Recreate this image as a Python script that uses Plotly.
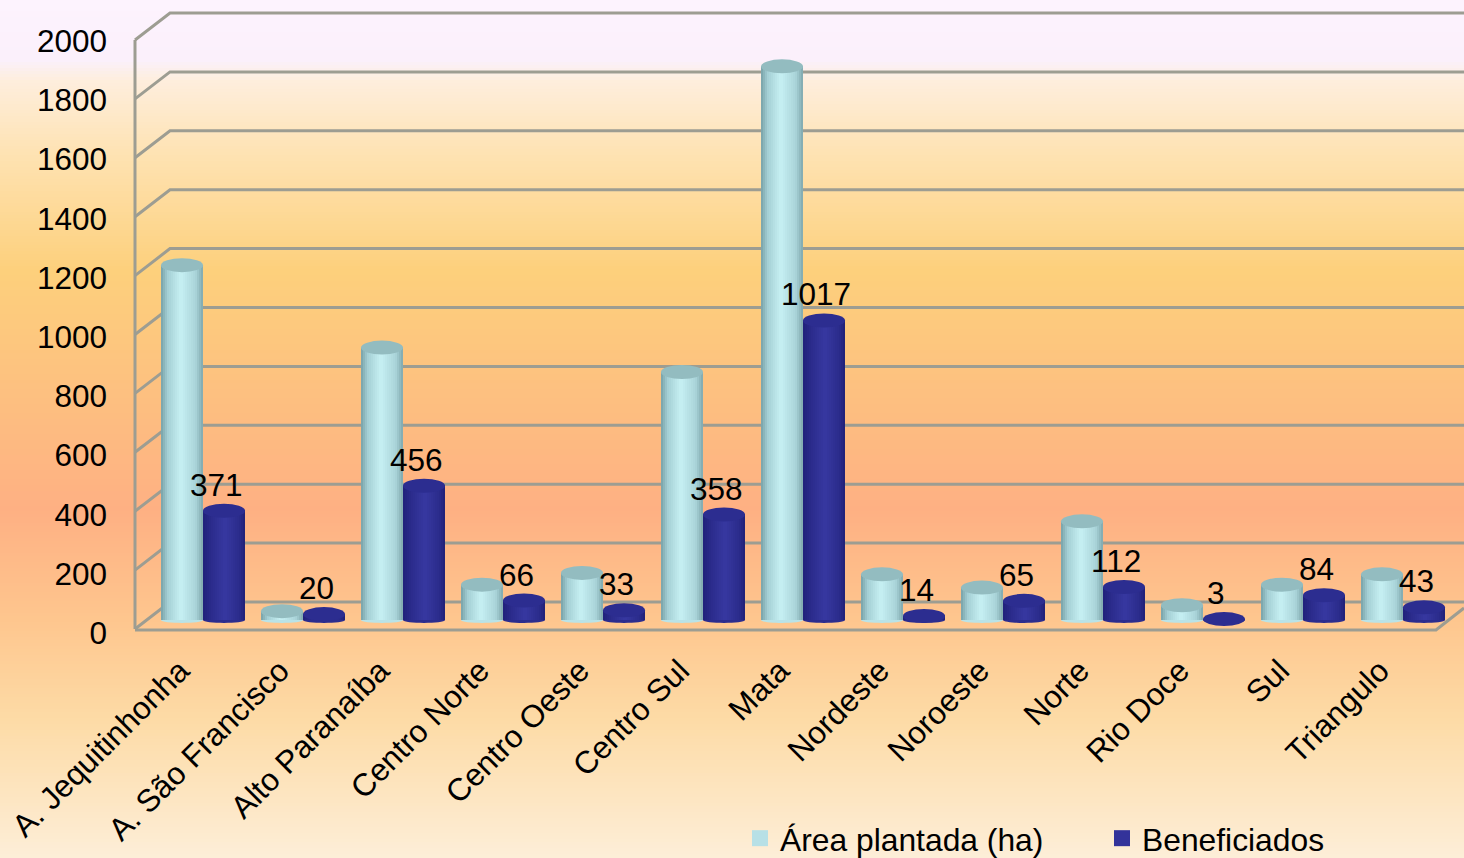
import plotly.graph_objects as go

categories = ["A. Jequitinhonha", "A. São Francisco", "Alto Paranaíba", "Centro Norte", "Centro Oeste",
              "Centro Sul", "Mata", "Nordeste", "Noroeste", "Norte", "Rio Doce", "Sul", "Triangulo"]
area_plantada = [1205, 30, 925, 120, 160, 842, 1880, 155, 110, 335, 50, 120, 155]
beneficiados = [371, 20, 456, 66, 33, 358, 1017, 14, 65, 112, 3, 84, 43]
y_ticks = [0, 200, 400, 600, 800, 1000, 1200, 1400, 1600, 1800, 2000]

W, H = 1464, 858
PX_PER_UNIT = 0.2945
BAR_ZERO = 620      # bars stand on the floor, behind the front edge
FRONT_ZERO = 629
BACK_ZERO = 602
FRONT_X, BACK_X = 135, 170
FONT = "Liberation Sans, Arial, sans-serif"
FS = 31.5
GRID = "#9d9d92"

xpos = list(range(len(categories)))
BW = 0.42
CAP = 7 / PX_PER_UNIT


def yrange(zero, scale=PX_PER_UNIT):
    return [(zero - H) / scale, zero / scale]


fig = go.Figure()

# background gradient
stops_px = [0, 60, 72, 80, 150, 270, 400, 510, 620, 720, 858]
stops_col = ["#fdf3fe", "#fbf0fb", "#fcefe8", "#feeedd", "#fee3b4", "#fdd07c", "#fdbf80", "#feb083", "#fec68e", "#fddba6", "#fdeed8"]
fig.add_trace(go.Heatmap(
    x=[0, W], y=list(range(0, H + 1, 3)),
    z=[[v, v] for v in range(0, H + 1, 3)],
    zmin=0, zmax=H,
    colorscale=[[p / H, c] for p, c in zip(stops_px, stops_col)],
    showscale=False, hoverinfo="skip", xaxis="x", yaxis="y"))


def line(xs, ys):
    fig.add_trace(go.Scatter(x=xs, y=ys, mode="lines", line=dict(color=GRID, width=3),
                             showlegend=False, hoverinfo="skip", xaxis="x", yaxis="y"))


# walls and floor
for t in y_ticks:
    d = t * PX_PER_UNIT
    line([FRONT_X, BACK_X, W], [FRONT_ZERO - d, BACK_ZERO - d, BACK_ZERO - d])
line([FRONT_X, FRONT_X], [FRONT_ZERO, FRONT_ZERO - 2000 * PX_PER_UNIT])
line([FRONT_X, 1436, W], [FRONT_ZERO + 1, FRONT_ZERO + 1, 608])


def cylinder(values, x_shift, stops):
    n = 21
    for k in range(n):
        f = k / n
        # pick shaded colour across the cylinder width
        for (a, ca), (b, cb) in zip(stops, stops[1:]):
            if a <= f <= b:
                t = (f - a) / (b - a)
                rgb = [round(ca[j] + (cb[j] - ca[j]) * t) for j in range(3)]
                break
        left = x_shift - BW / 2 + f * BW
        right = x_shift + BW / 2
        fig.add_trace(go.Bar(x=xpos, y=values, width=right - left, offset=left,
                             marker=dict(color=f"rgb({rgb[0]},{rgb[1]},{rgb[2]})", line=dict(width=0)),
                             showlegend=False, hoverinfo="skip", xaxis="x2", yaxis="y2"))


light = [(0, (126, 168, 174)), (0.14, (165, 208, 213)), (0.45, (198, 240, 243)), (0.8, (170, 212, 217)), (1.0, (122, 162, 168))]
dark = [(0, (34, 34, 125)), (0.2, (44, 45, 142)), (0.5, (55, 56, 160)), (0.85, (42, 43, 138)), (1.0, (30, 30, 115))]
cylinder(area_plantada, -BW / 2, light)
cylinder(beneficiados, BW / 2, dark)

shapes = []
for i in xpos:
    for val, sh, top, bottom in ((area_plantada[i], -BW / 2, "#93bcc0", "#b9e3e7"),
                                 (beneficiados[i], BW / 2, "#2c2d90", "#2b2c8e")):
        cx = i + sh
        xl, xr = cx - BW / 2, cx + BW / 2
        # rounded foot of the cylinder
        shapes.append(dict(type="path", xref="x2", yref="y2", layer="above", line_width=0, fillcolor=bottom,
                           path=f"M {xl},0 C {xl},{-0.55 * CAP} {xr},{-0.55 * CAP} {xr},0 Z"))
        shapes.append(dict(type="circle", xref="x2", yref="y2", layer="above", line_width=0, fillcolor=top,
                           x0=xl, x1=xr, y0=val - CAP, y1=val + CAP))

annotations = [dict(x=i + 0.13, y=v, xref="x2", yref="y2", yshift=26, text=str(v), showarrow=False,
                    font=dict(family=FONT, size=FS, color="#000000"))
               for i, v in zip(xpos, beneficiados)]

# legend entries
fig.add_trace(go.Scatter(x=[None], y=[None], mode="markers", name="Área plantada (ha)", legend="legend",
                         marker=dict(symbol="square", size=16, color="#b7e0e6"), xaxis="x2", yaxis="y2"))
fig.add_trace(go.Scatter(x=[None], y=[None], mode="markers", name="Beneficiados", legend="legend2",
                         marker=dict(symbol="square", size=16, color="#33339a"), xaxis="x2", yaxis="y2"))
# carries the value axis
fig.add_trace(go.Scatter(x=[None], y=[None], mode="markers", showlegend=False, hoverinfo="skip",
                         xaxis="x2", yaxis="y3"))

legend_common = dict(orientation="h", xanchor="left", yanchor="top", y=1 - 811 / H, bgcolor="rgba(0,0,0,0)",
                     font=dict(family=FONT, size=31.8))
fig.update_layout(
    width=W, height=H, autosize=False, margin=dict(l=0, r=0, t=0, b=0, autoexpand=False),
    paper_bgcolor="#fdeed8", plot_bgcolor="rgba(0,0,0,0)",
    barmode="overlay", shapes=shapes, annotations=annotations, hovermode=False,
    font=dict(family=FONT, size=FS, color="#000000"),
    xaxis=dict(range=[0, W], domain=[0, 1], visible=False, fixedrange=True),
    yaxis=dict(range=[H, 0], domain=[0, 1], visible=False, fixedrange=True),
    xaxis2=dict(range=[(0 - 203) / 100, (W - 203) / 100], domain=[0, 1], overlaying="x", anchor="free",
                position=1 - 645 / H, tickmode="array", tickvals=[i - 0.23 for i in xpos], ticktext=categories,
                tickangle=-45, showgrid=False, zeroline=False, showline=False, ticks="",
                tickfont=dict(family=FONT, size=FS), side="bottom"),
    yaxis2=dict(range=yrange(BAR_ZERO), domain=[0, 1], overlaying="y", visible=False, fixedrange=True),
    yaxis3=dict(range=yrange(633, 0.296), domain=[0, 1], overlaying="y", anchor="free", position=107 / W,
                side="left", tickmode="array", tickvals=y_ticks, showgrid=False, zeroline=False, showline=False,
                ticks="", tickfont=dict(family=FONT, size=FS)),
    legend=dict(x=740 / W, **legend_common),
    legend2=dict(x=1102 / W, **legend_common),
)
fig.write_html("out.html", config=dict(displayModeBar=False),
               post_script="document.body.style.margin='0';document.documentElement.style.overflow='hidden';")
